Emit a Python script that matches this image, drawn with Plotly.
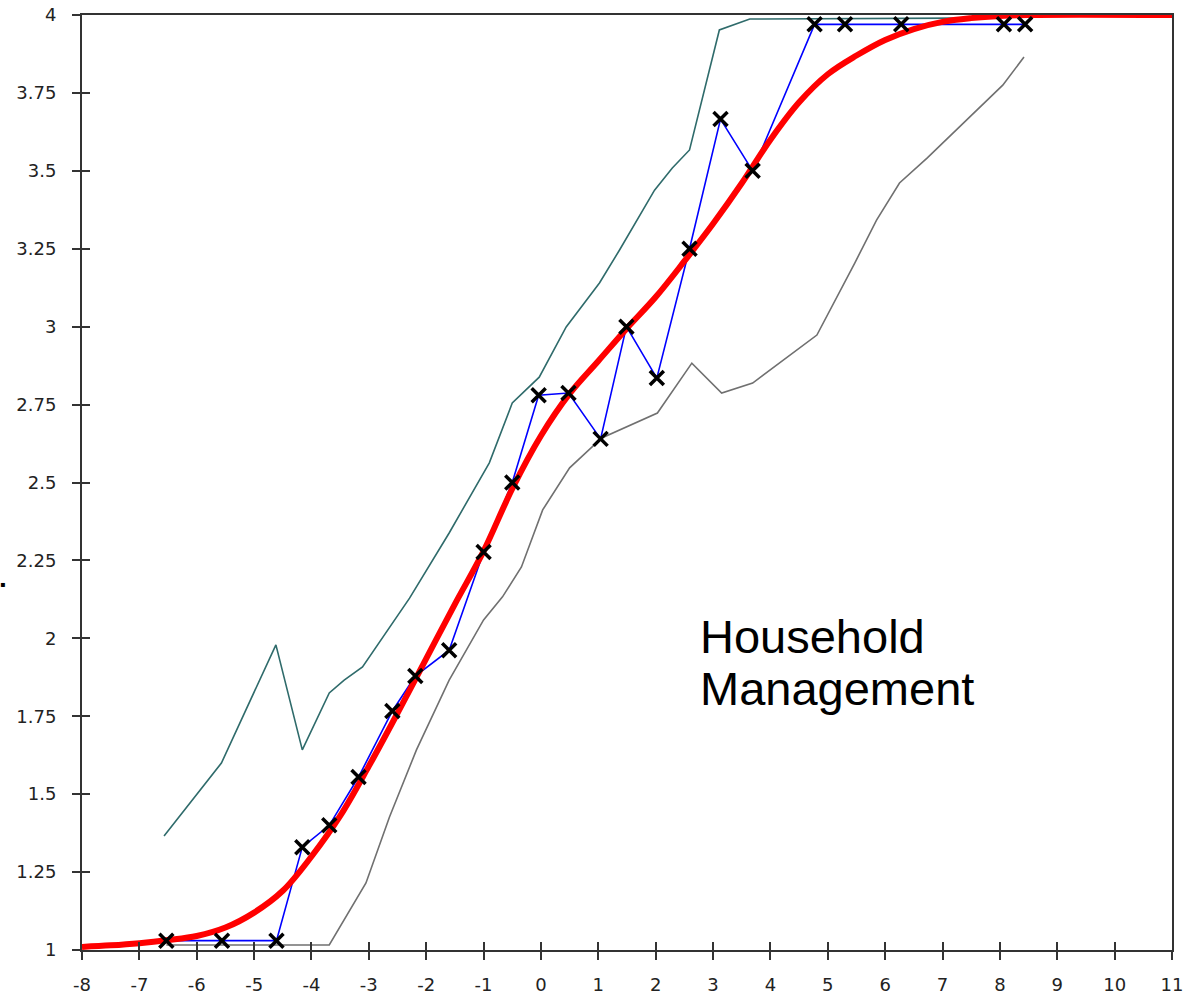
import plotly.graph_objects as go

# Observed item scores (blue line with X markers)
obs_x = [-6.53, -5.56, -4.61, -4.16, -3.69, -3.18, -2.59, -2.19, -1.60, -1.00, -0.50, -0.04,
         0.48, 1.04, 1.49, 2.02, 2.59, 3.13, 3.69, 4.77, 5.30, 6.28, 8.07, 8.44]
obs_y = [1.03, 1.03, 1.03, 1.33, 1.40, 1.555, 1.767, 1.879, 1.962, 2.277, 2.50, 2.78,
         2.787, 2.64, 3.00, 2.835, 3.25, 3.666, 3.50, 3.97, 3.97, 3.97, 3.97, 3.97]

# Model expected score curve (red)
model_x = [-8.0, -7.5, -7.0, -6.5, -6.0, -5.5, -5.0, -4.5, -4.0, -3.5, -3.0, -2.5, -2.0, -1.5,
           -1.0, -0.5, 0.0, 0.5, 1.0, 1.5, 2.0, 2.5, 3.0, 3.5, 4.0, 4.5, 5.0, 5.5, 6.0, 6.5,
           7.0, 7.5, 8.0, 8.5, 11.0]
model_y = [1.010, 1.015, 1.022, 1.032, 1.045, 1.072, 1.120, 1.190, 1.300, 1.430, 1.590, 1.760,
           1.935, 2.110, 2.280, 2.480, 2.650, 2.785, 2.890, 2.995, 3.095, 3.210, 3.330, 3.460,
           3.600, 3.720, 3.810, 3.870, 3.920, 3.955, 3.978, 3.990, 3.997, 4.000, 4.000]

# Upper confidence band (teal)
upper_x = [-6.57, -5.57, -4.62, -4.16, -3.69, -3.43, -3.11, -2.59, -2.29, -1.60, -0.90, -0.50,
           -0.03, 0.44, 1.02, 1.37, 1.98, 2.29, 2.59, 3.11, 3.64, 7.25, 8.44]
upper_y = [1.366, 1.600, 1.979, 1.642, 1.825, 1.866, 1.908, 2.049, 2.129, 2.338, 2.563, 2.755,
           2.838, 2.999, 3.140, 3.246, 3.438, 3.509, 3.567, 3.952, 3.987, 3.990, 3.995]

# Lower confidence band (gray)
lower_x = [-6.53, -3.69, -3.05, -2.64, -2.17, -1.60, -1.00, -0.67, -0.34, 0.03, 0.50, 1.06,
           2.03, 2.63, 3.15, 3.69, 4.81, 5.29, 5.47, 5.85, 6.25, 6.73, 7.65, 8.05, 8.42]
lower_y = [1.016, 1.016, 1.215, 1.427, 1.642, 1.866, 2.059, 2.133, 2.229, 2.412, 2.547, 2.643,
           2.723, 2.883, 2.787, 2.819, 2.973, 3.140, 3.204, 3.342, 3.461, 3.541, 3.702, 3.775, 3.865]

x_ticks = list(range(-8, 12))
x_labels = [str(v) for v in x_ticks]
y_ticks = [1, 1.25, 1.5, 1.75, 2, 2.25, 2.5, 2.75, 3, 3.25, 3.5, 3.75, 4]
y_labels = ["1", "1.25", "1.5", "1.75", "2", "2.25", "2.5", "2.75", "3", "3.25", "3.5", "3.75", "4"]

label_lines = ["Household", "Management"]

fig = go.Figure()
fig.add_trace(go.Scatter(x=upper_x, y=upper_y, mode="lines",
                         line=dict(color="#2f6b6b", width=1.6), hoverinfo="skip"))
fig.add_trace(go.Scatter(x=lower_x, y=lower_y, mode="lines",
                         line=dict(color="#707070", width=1.6), hoverinfo="skip"))
fig.add_trace(go.Scatter(x=obs_x, y=obs_y, mode="lines",
                         line=dict(color="#0000ff", width=1.6)))
fig.add_trace(go.Scatter(x=model_x, y=model_y, mode="lines",
                         line=dict(color="#ff0000", width=6, shape="spline", smoothing=1.0)))
fig.add_trace(go.Scatter(x=obs_x, y=obs_y, mode="markers",
                         marker=dict(symbol="x-thin", size=14, color="black",
                                     line=dict(color="black", width=3.5))))

tickfont = dict(family="DejaVu Sans", size=18, color="#222222")
axis_common = dict(showgrid=False, zeroline=False, showline=True, linecolor="#333333",
                   linewidth=2, mirror=True, ticks="outside", ticklen=8, tickwidth=2,
                   tickcolor="#333333", tickfont=tickfont, automargin=False)

fig.update_layout(
    width=1187, height=997,
    margin=dict(l=82, r=15, t=15, b=47),
    paper_bgcolor="white", plot_bgcolor="white",
    showlegend=False,
    xaxis=dict(range=[-8, 11], tickvals=x_ticks, ticktext=x_labels,
               ticklabelstandoff=9, **axis_common),
    yaxis=dict(range=[1, 4], tickvals=y_ticks, ticktext=y_labels,
               ticklabelstandoff=12, **axis_common),
    xaxis2=dict(overlaying="x", matches="x", range=[-8, 11], tickvals=x_ticks,
                showticklabels=False, showgrid=False, zeroline=False, showline=False,
                ticks="inside", ticklen=8, tickwidth=2, tickcolor="#333333", side="bottom",
                automargin=False),
    yaxis2=dict(overlaying="y", matches="y", range=[1, 4], tickvals=y_ticks,
                showticklabels=False, showgrid=False, zeroline=False, showline=False,
                ticks="inside", ticklen=8, tickwidth=2, tickcolor="#333333", side="left",
                automargin=False),
    annotations=[
        dict(x=2.73, y=2.005, xref="x", yref="y", text=label_lines[0], showarrow=False,
             xanchor="left", yanchor="middle",
             font=dict(family="Liberation Sans", size=47, color="black")),
        dict(x=2.73, y=1.838, xref="x", yref="y", text=label_lines[1], showarrow=False,
             xanchor="left", yanchor="middle",
             font=dict(family="Liberation Sans", size=47, color="black")),
        dict(x=0.0, y=0.391, xref="paper", yref="paper", xshift=-84, text="\u25aa",
             showarrow=False, xanchor="left", yanchor="middle",
             font=dict(family="DejaVu Sans", size=8, color="black")),
    ],
)
# dummy trace to activate the overlay axes
fig.add_trace(go.Scatter(x=[None], y=[None], xaxis="x2", yaxis="y2", hoverinfo="skip"))

fig.write_html("out.html")
